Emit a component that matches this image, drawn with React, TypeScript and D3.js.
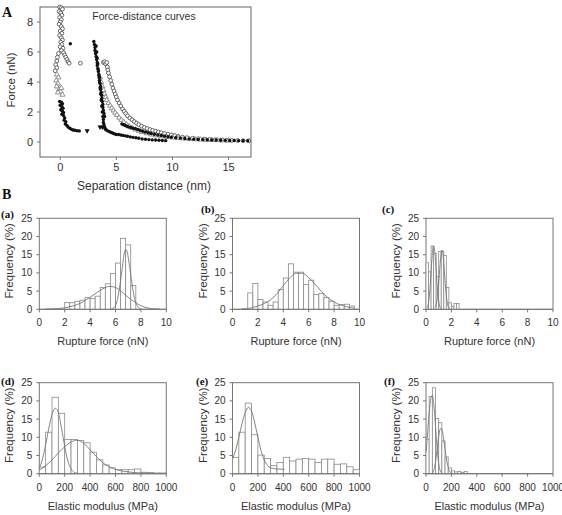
import * as d3 from 'd3';

// ---------- top panel: force-distance curves ----------
const forceXTicks = [0, 5, 10, 15];
const forceYTicks = [0, 2, 4, 6, 8];

const openCircleX = [-0.05, 0.1, 0.2, -0.1, 0.05, 0.15, -0.05, 0.1, 0.0, -0.1, 0.1, 0.2, 0.0, 0.15, -0.05, 0.1, 0.2, 0.05, 0.15, 0.0, 0.25, 0.1, 0.3, 0.4, 0.5, 0.6, 0.7, 0.8, -0.15, -0.25, -0.3, -0.4, -0.3, -0.45, 1.8,
  3.85, 3.95, 4.05, 4.15, 4.2, 4.25, 4.3, 4.4, 4.5, 4.6, 4.7, 4.8, 4.9, 5.0, 5.1, 5.25, 5.4, 5.55, 5.7, 5.85, 6.0, 6.2, 6.4, 6.6, 6.8, 7.0, 7.25, 7.5, 7.75, 8.0, 8.25, 8.5, 8.75, 9.0, 9.3, 9.6, 9.9, 10.2, 10.5, 10.9, 11.3, 11.8, 12.3, 12.8, 13.3, 13.8, 14.3, 14.8, 15.3, 15.8, 16.3, 16.8];
const openCircleY = [9.0, 8.95, 8.85, 8.7, 8.6, 8.45, 8.3, 8.15, 8.0, 7.85, 7.7, 7.55, 7.4, 7.25, 7.1, 6.95, 6.8, 6.65, 6.5, 6.35, 6.25, 6.1, 5.95, 5.8, 5.65, 5.5, 5.35, 5.25, 5.9, 5.65, 5.4, 5.15, 4.95, 4.75, 5.25,
  5.3, 5.35, 5.2, 5.3, 5.0, 4.8, 4.6, 4.35, 4.1, 3.85, 3.6, 3.4, 3.2, 3.0, 2.8, 2.6, 2.4, 2.2, 2.05, 1.9, 1.75, 1.6, 1.48, 1.36, 1.26, 1.16, 1.06, 0.97, 0.9, 0.83, 0.77, 0.72, 0.67, 0.62, 0.57, 0.52, 0.47, 0.43, 0.38, 0.33, 0.29, 0.25, 0.22, 0.19, 0.17, 0.15, 0.13, 0.12, 0.11, 0.1, 0.09, 0.08];

const openTriX = [-0.3, -0.15, -0.35, -0.2, -0.3, -0.1, 0.05, -0.2, 0.2, 0.1,
  3.55, 3.65, 3.75, 3.85, 3.95, 4.05, 4.15, 4.3, 4.45, 4.6, 4.75, 4.9, 5.05, 5.25, 5.45, 5.65, 5.9, 6.15, 6.4, 6.7, 7.0, 7.3, 7.7, 8.1, 8.5, 9.0, 9.5, 10.0, 10.5, 11.0, 11.5, 12.0, 12.5, 13.0, 13.5, 14.0, 14.5, 15.0];
const openTriY = [4.5, 4.3, 4.1, 3.9, 3.7, 3.5, 3.35, 3.3, 3.15, 3.6,
  4.3, 4.0, 3.7, 3.45, 3.2, 3.0, 2.8, 2.6, 2.42, 2.25, 2.1, 1.95, 1.8, 1.62, 1.47, 1.33, 1.18, 1.05, 0.94, 0.83, 0.74, 0.66, 0.58, 0.5, 0.44, 0.38, 0.33, 0.29, 0.26, 0.23, 0.2, 0.18, 0.16, 0.14, 0.13, 0.12, 0.11, 0.1];

const filledX = [0.9, -0.05, 0.1, 0.2, 0.0, 0.15, 0.25, 0.05, 0.2, 0.3, 0.15, 0.3, 0.4, 0.35, 0.5, 0.45, 0.6, 0.7, 0.85, 1.0, 1.15, 1.3, 1.5, 1.7,
  3.0, 3.05, 3.1, 3.1, 3.15, 3.2, 3.25, 3.3, 3.3, 3.35, 3.4, 3.45, 3.5, 3.5, 3.55, 3.6, 3.6, 3.65, 3.7, 3.7, 3.75, 3.8, 3.8, 3.85, 3.9, 3.95,
  3.2, 3.25, 3.3, 3.35, 3.4, 3.45, 3.5, 3.55, 3.6, 3.65, 3.7, 3.75, 3.8, 3.85, 3.85, 3.9, 3.95, 4.0, 4.05,
  4.1, 4.25, 4.4, 4.55, 4.7, 4.85, 5.0, 5.2, 5.4, 5.6, 5.8, 6.0, 6.25, 6.5, 6.75, 7.0, 7.3, 7.6, 7.9, 8.2, 8.5, 8.8, 9.1, 9.4,
  5.5, 5.65, 5.8, 5.95, 6.1, 6.3, 6.5, 6.7, 6.9, 7.1, 7.35, 7.6, 7.85, 8.1, 8.4, 8.7, 9.0, 9.3, 9.6, 9.9, 10.3, 10.7, 11.1, 11.5, 11.9, 12.3, 12.7, 13.1, 13.5, 13.9, 14.3, 14.7, 15.1, 15.5, 15.9, 16.3, 16.7];
const filledY = [6.55, 2.7, 2.65, 2.55, 2.45, 2.35, 2.25, 2.15, 2.05, 1.95, 1.85, 1.75, 1.6, 1.45, 1.35, 1.2, 1.1, 1.0, 0.92, 0.85, 0.8, 0.78, 0.75, 0.74,
  6.7, 6.5, 6.3, 6.1, 5.9, 5.7, 5.5, 5.3, 5.1, 4.9, 4.7, 4.5, 4.3, 4.1, 3.9, 3.7, 3.5, 3.3, 3.1, 2.9, 2.7, 2.5, 2.3, 2.1, 1.9, 1.7,
  6.4, 6.0, 5.6, 5.2, 4.8, 4.4, 4.0, 3.6, 3.2, 2.8, 2.4, 2.0, 1.7, 1.5, 1.3, 1.15, 1.0, 0.9, 0.85,
  0.8, 0.74, 0.68, 0.63, 0.58, 0.54, 0.5, 0.5, 0.47, 0.44, 0.41, 0.38, 0.34, 0.31, 0.28, 0.25, 0.2, 0.18, 0.16, 0.14, 0.13, 0.12, 0.1, 0.09,
  1.2, 1.15, 1.1, 1.05, 1.0, 0.97, 0.92, 0.88, 0.83, 0.78, 0.72, 0.67, 0.62, 0.57, 0.52, 0.47, 0.43, 0.39, 0.35, 0.32, 0.29, 0.26, 0.23, 0.21, 0.19, 0.17, 0.16, 0.15, 0.14, 0.13, 0.12, 0.11, 0.1, 0.1, 0.09, 0.08, 0.08];

const downTriX = [2.4, 3.55, 3.75];
const downTriY = [0.75, 1.0, 1.0];

// ---------- histograms ----------
const freqTicks = [0, 5, 10, 15, 20, 25];
const ruptureTicks = [0, 2, 4, 6, 8, 10];
const modulusTicks = [0, 200, 400, 600, 800, 1000];

const aFreq = [1.9, 1.8, 2.2, 2.5, 3.2, 3.0, 3.6, 6.0, 7.0, 9.8, 12.7, 19.5, 17.7, 6.5];
const aCurve1X = [0.5, 1, 1.5, 2, 2.5, 3, 3.5, 4, 4.5, 5, 5.5, 6, 6.5, 7, 7.5, 8, 8.5, 9, 9.5];
const aCurve1Y = [0.05, 0.1, 0.2, 0.4, 0.8, 1.3, 2.2, 3.3, 4.5, 5.6, 6.3, 6.0, 4.8, 3.3, 2.0, 1.0, 0.4, 0.15, 0.05];
const aCurve2X = [5.6, 5.9, 6.1, 6.3, 6.5, 6.7, 6.8, 6.9, 7.1, 7.3, 7.5, 7.7, 7.9, 8.1];
const aCurve2Y = [0, 0.5, 2, 5.5, 10.5, 15.5, 16.5, 16, 12, 7, 3, 1, 0.3, 0];

const bFreq = [4.5, 7.1, 2.7, 2.0, 1.1, 2.0, 5.4, 8.6, 12.5, 10.2, 10.2, 6.8, 8.0, 4.1, 4.3, 3.2, 2.2, 1.1, 1.3, 1.4, 0.9];
const bCurveX = [0.7, 1.5, 2, 2.5, 3, 3.5, 4, 4.5, 5, 5.5, 6, 6.5, 7, 7.5, 8, 8.5, 9, 9.6];
const bCurveY = [0.1, 0.4, 0.9, 1.6, 2.6, 4.3, 6.5, 8.6, 9.9, 9.9, 8.7, 6.9, 4.9, 3.2, 2.0, 1.2, 0.7, 0.3];

const cFreq = [12.8, 10.3, 17.4, 15.4, 9.0, 15.9, 16.0, 14.8, 6.0, 1.8, 0.8, 1.6, 1.6];
const cCurve1X = [0.05, 0.15, 0.25, 0.35, 0.45, 0.55, 0.6, 0.7, 0.8, 0.9, 1.0, 1.1, 1.2];
const cCurve1Y = [0.2, 1.0, 3.3, 7.5, 13, 17, 17.4, 15.5, 10.5, 5.5, 2.2, 0.6, 0.1];
const cCurve2X = [0.7, 0.8, 0.9, 1.0, 1.1, 1.2, 1.25, 1.3, 1.4, 1.5, 1.6, 1.7, 1.8, 1.9];
const cCurve2Y = [0.4, 1.3, 3.5, 7.3, 12, 15.5, 16.2, 15.9, 12.6, 7.9, 3.9, 1.3, 0.4, 0.1];

const dFreq = [1.8, 11.4, 21.0, 16.6, 9.4, 9.4, 9.1, 8.5, 5.9, 3.8, 2.4, 1.6, 1.1, 1.1, 1.1, 1.3, 0.4, 0.3, 0.2, 0.2];
const dCurve1X = [0, 25, 50, 75, 100, 125, 150, 175, 200, 225, 250, 275, 300];
const dCurve1Y = [1.5, 4, 8, 12.5, 16.3, 18, 16.8, 12.5, 7.5, 3.5, 1.3, 0.4, 0.1];
const dCurve2X = [0, 50, 100, 150, 200, 250, 300, 350, 400, 450, 500, 550, 600, 700, 800, 900];
const dCurve2Y = [1.0, 2.2, 3.8, 5.7, 7.4, 8.7, 9.2, 8.3, 6.6, 4.7, 3.0, 1.9, 1.2, 0.5, 0.2, 0.1];

const eFreq = [4.5, 11.4, 19.4, 10.7, 5.1, 4.2, 2.2, 3.1, 4.5, 3.5, 4.0, 4.2, 4.0, 3.1, 4.0, 4.0, 2.6, 2.7, 1.9, 1.1];
const eCurveX = [0, 25, 50, 75, 100, 125, 150, 175, 200, 225, 250, 275, 300, 350, 410];
const eCurveY = [4.0, 6.5, 10, 13.8, 16.8, 18.2, 17.2, 14, 10, 6.3, 3.8, 2.3, 1.6, 1.3, 1.2];

const fFreq = [9.5, 21.2, 23.6, 15.2, 14.0, 9.0, 4.6, 1.6, 0.8, 0.5, 0.6, 0.3, 0.6];
const fCurve1X = [0, 10, 20, 30, 40, 50, 60, 70, 80, 90, 100, 110, 120];
const fCurve1Y = [6, 10, 14.5, 18.5, 21, 21.5, 19.5, 15.5, 10.5, 6, 2.8, 1, 0.3];
const fCurve2X = [50, 60, 70, 80, 90, 100, 110, 120, 130, 140, 150, 160, 170, 180, 190, 200, 220];
const fCurve2Y = [0.2, 0.8, 2.2, 4.5, 7.5, 10.3, 12.1, 12.5, 11.5, 9.3, 6.7, 4.3, 2.4, 1.2, 0.5, 0.2, 0];

const SANS = '"Liberation Sans", Arial, sans-serif';
const SERIF = '"Liberation Serif", "Times New Roman", serif';
const TEXT = '#333';
const AXIS = '#777';

function ForcePanel() {
  const left = 40, right = 251, top = 7, bottom = 157;
  const x = d3.scaleLinear().domain([-1.8, 17]).range([left, right]);
  const y = d3.scaleLinear().domain([-1, 9]).range([bottom, top]);
  const tri = d3.symbol().type(d3.symbolTriangle).size(11)();
  return (
    <g>
      <rect x={left} y={top} width={right - left} height={bottom - top} fill="white" stroke="#666" strokeWidth={1} />
      {openCircleX.map((v, i) => (
        <circle key={'oc' + i} cx={x(v)} cy={y(openCircleY[i])} r={1.9} fill="white" stroke="#444" strokeWidth={0.8} />
      ))}
      {openTriX.map((v, i) => (
        <path key={'ot' + i} d={tri} transform={`translate(${x(v)},${y(openTriY[i])})`} fill="white" stroke="#777" strokeWidth={0.8} />
      ))}
      {filledX.map((v, i) => (
        <circle key={'fc' + i} cx={x(v)} cy={y(filledY[i])} r={1.7} fill="#111" />
      ))}
      {downTriX.map((v, i) => (
        <path key={'dt' + i} d={tri} transform={`translate(${x(v)},${y(downTriY[i])}) rotate(180)`} fill="#111" />
      ))}
      {forceXTicks.map(t => (
        <g key={'xt' + t}>
          <line x1={x(t)} x2={x(t)} y1={bottom} y2={bottom + 3} stroke={AXIS} />
          <text x={x(t)} y={bottom + 14} textAnchor="middle" fontSize={11} fill={TEXT} fontFamily={SANS}>{t}</text>
        </g>
      ))}
      {forceYTicks.map(t => (
        <g key={'yt' + t}>
          <line x1={left - 3} x2={left} y1={y(t)} y2={y(t)} stroke={AXIS} />
          <text x={left - 7} y={y(t)} dy="0.35em" textAnchor="end" fontSize={11} fill={TEXT} fontFamily={SANS}>{t}</text>
        </g>
      ))}
      <text x={144} y={20} textAnchor="middle" fontSize={10.5} fill={TEXT} fontFamily={SANS}>Force-distance curves</text>
      <text x={144} y={190} textAnchor="middle" fontSize={12} fill={TEXT} fontFamily={SANS}>Separation distance (nm)</text>
      <text transform={`translate(15,${(top + bottom) / 2 - 2}) rotate(-90)`} textAnchor="middle" fontSize={11.5} fill={TEXT} fontFamily={SANS}>Force (nN)</text>
    </g>
  );
}

type Curve = { xs: number[]; ys: number[] };

function Histogram(props: {
  left: number; top: number; xMax: number; xTicks: number[];
  binStart: number; binWidth: number; freq: number[]; curves: Curve[];
  tag: string; tagX: number; tagY: number; xLabel: string;
}) {
  const { left, top, xMax, xTicks, binStart, binWidth, freq, curves, tag, tagX, tagY, xLabel } = props;
  const w = 127, h = 91;
  const x = d3.scaleLinear().domain([0, xMax]).range([left, left + w]);
  const y = d3.scaleLinear().domain([0, 25]).range([top + h, top]);
  const line = d3.line<number>().curve(d3.curveMonotoneX);
  return (
    <g>
      <rect x={left} y={top} width={w} height={h} fill="white" stroke={AXIS} strokeWidth={1} />
      {freq.map((f, i) => {
        const x0 = x(binStart + i * binWidth);
        const x1 = x(binStart + (i + 1) * binWidth);
        return <rect key={'b' + i} x={x0} y={y(f)} width={x1 - x0} height={y(0) - y(f)} fill="white" stroke="#8a8a8a" strokeWidth={0.8} />;
      })}
      {curves.map((c, k) => (
        <path key={'c' + k} d={line(c.xs.map((v, i) => [x(v), y(c.ys[i])]) as any) || ''} fill="none" stroke="#777" strokeWidth={0.9} />
      ))}
      <line x1={left} x2={left + w} y1={top + h} y2={top + h} stroke={AXIS} />
      {xTicks.map(t => (
        <g key={'xt' + t}>
          <line x1={x(t)} x2={x(t)} y1={top + h} y2={top + h + 3} stroke={AXIS} />
          <text x={x(t)} y={top + h + 17} textAnchor="middle" fontSize={10} fill={TEXT} fontFamily={SANS}>{t}</text>
        </g>
      ))}
      {freqTicks.map(t => (
        <g key={'yt' + t}>
          <line x1={left - 3} x2={left} y1={y(t)} y2={y(t)} stroke={AXIS} />
          <text x={left - 7} y={y(t)} dy="0.35em" textAnchor="end" fontSize={10} fill={TEXT} fontFamily={SANS}>{t}</text>
        </g>
      ))}
      <text x={left + w / 2} y={top + h + 36} textAnchor="middle" fontSize={11} fill={TEXT} fontFamily={SANS}>{xLabel}</text>
      <text transform={`translate(${left - 26},${top + h / 2 - 3}) rotate(-90)`} textAnchor="middle" fontSize={11.5} fill={TEXT} fontFamily={SANS}>Frequency (%)</text>
      <text x={tagX} y={tagY} fontSize={11} fontWeight="bold" fill="#111" fontFamily={SERIF}>{tag}</text>
    </g>
  );
}

export default function App() {
  const cols = [39.3, 232.5, 426];
  const rows = [218.3, 382.7];
  return (
    <svg width={562} height={515} style={{ position: 'absolute', left: 0, top: 0, background: 'white' }}>
      <rect width={562} height={515} fill="white" />
      <text x={2} y={17} fontSize={14} fontWeight="bold" fill="#111" fontFamily={SERIF}>A</text>
      <text x={2} y={199} fontSize={14} fontWeight="bold" fill="#111" fontFamily={SERIF}>B</text>
      <ForcePanel />
      <Histogram left={cols[0]} top={rows[0]} xMax={10} xTicks={ruptureTicks} binStart={2.0} binWidth={0.4} freq={aFreq}
        curves={[{ xs: aCurve1X, ys: aCurve1Y }, { xs: aCurve2X, ys: aCurve2Y }]} tag="(a)" tagX={1} tagY={218} xLabel="Rupture force (nN)" />
      <Histogram left={cols[1]} top={rows[0]} xMax={10} xTicks={ruptureTicks} binStart={1.2} binWidth={0.4} freq={bFreq}
        curves={[{ xs: bCurveX, ys: bCurveY }]} tag="(b)" tagX={201} tagY={213} xLabel="Rupture force (nN)" />
      <Histogram left={cols[2]} top={rows[0]} xMax={10} xTicks={ruptureTicks} binStart={0} binWidth={0.2} freq={cFreq}
        curves={[{ xs: cCurve1X, ys: cCurve1Y }, { xs: cCurve2X, ys: cCurve2Y }]} tag="(c)" tagX={382} tagY={213} xLabel="Rupture force (nN)" />
      <Histogram left={cols[0]} top={rows[1]} xMax={1000} xTicks={modulusTicks} binStart={0} binWidth={50} freq={dFreq}
        curves={[{ xs: dCurve1X, ys: dCurve1Y }, { xs: dCurve2X, ys: dCurve2Y }]} tag="(d)" tagX={1} tagY={385} xLabel="Elastic modulus (MPa)" />
      <Histogram left={cols[1]} top={rows[1]} xMax={1000} xTicks={modulusTicks} binStart={0} binWidth={50} freq={eFreq}
        curves={[{ xs: eCurveX, ys: eCurveY }]} tag="(e)" tagX={196} tagY={385} xLabel="Elastic modulus (MPa)" />
      <Histogram left={cols[2]} top={rows[1]} xMax={1000} xTicks={modulusTicks} binStart={0} binWidth={25} freq={fFreq}
        curves={[{ xs: fCurve1X, ys: fCurve1Y }, { xs: fCurve2X, ys: fCurve2Y }]} tag="(f)" tagX={384} tagY={385} xLabel="Elastic modulus (MPa)" />
    </svg>
  );
}
